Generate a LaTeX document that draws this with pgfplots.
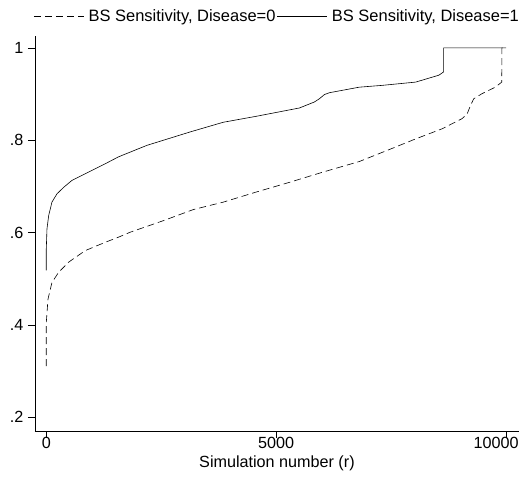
\documentclass[border=0pt]{standalone}
\usepackage{fontspec}
\setmainfont{Liberation Sans}
\usepackage{pgfplots}
\pgfplotsset{compat=1.18}

\begin{document}
\fontsize{16.2}{19}\selectfont
\begin{tikzpicture}
\begin{axis}[
    scale only axis,
    width=485pt,
    height=396pt,
    xmin=-247, xmax=10280,
    ymin=0.17, ymax=1.026,
    axis x line=bottom,
    axis y line=left,
    axis line style={-, line width=0.8pt},
    tick style={black, line width=0.8pt},
    tick align=outside,
    major tick length=7pt,
    scaled x ticks=false,
    xtick={0,5000},
    xticklabels={0,5000},
    extra x ticks={10000},
    extra x tick labels={10000},
    extra x tick style={xticklabel style={xshift=-10pt}},
    ytick={0.2,0.4,0.6,0.8,1},
    yticklabels={.2,.4,.6,.8,1},
    /pgf/number format/assume math mode=true,
    xlabel={Simulation number (r)},
    xlabel style={yshift=17pt},
    xticklabel style={yshift=7pt},
    yticklabel style={xshift=1pt},
    clip=false,
    legend columns=2,
    legend style={at={(0.5,1)}, anchor=south, yshift=10pt, draw=none,
        inner sep=0pt, outer sep=0pt,
        font=\fontsize{16.5}{19}\selectfont,
        nodes={inner xsep=1.5pt},
        /tikz/every even column/.append style={column sep=0pt}},
    legend image code/.code={\draw[#1] (0pt,0pt) -- (50pt,0pt); \path (53pt,0pt);},
]
\addplot[black, line width=0.6pt, dash pattern=on 7pt off 4pt] coordinates {
(0,0.311) (0,0.405) (37,0.456) (123,0.492) (268,0.514) (485,0.536) (846,0.561)
(1280,0.579) (1567,0.590) (1827,0.601) (2548,0.626) (3200,0.650) (3847,0.666)
(4569,0.688) (5291,0.709) (6013,0.731) (6807,0.754) (7311,0.774) (8033,0.803)
(8611,0.825) (9044,0.847) (9152,0.857) (9224,0.875) (9296,0.890) (9477,0.901)
(9765,0.915) (9905,0.926) (9909,1.0) (10000,1.0)
};
\addlegendentry{BS Sensitivity, Disease=0}
\addplot[black, line width=0.6pt] coordinates {
(0,0.518) (0,0.565) (15,0.608) (52,0.637) (123,0.666) (232,0.684) (377,0.698)
(557,0.713) (918,0.731) (1280,0.749) (1567,0.764) (2188,0.789) (3126,0.818)
(3847,0.839) (4569,0.852) (5507,0.870) (5832,0.883) (5940,0.890) (6048,0.899)
(6156,0.903) (6806,0.915) (7311,0.919) (8033,0.926) (8538,0.941) (8640,0.948)
(8642,1.0) (10000,1.0)
};
\addlegendentry{BS Sensitivity, Disease=1}
% fixes the outer margins to match the reference
\path ([xshift=-35pt,yshift=-41pt]rel axis cs:0,0) rectangle ([xshift=4pt,yshift=36pt]rel axis cs:1,1);
\end{axis}
\end{tikzpicture}
\end{document}
